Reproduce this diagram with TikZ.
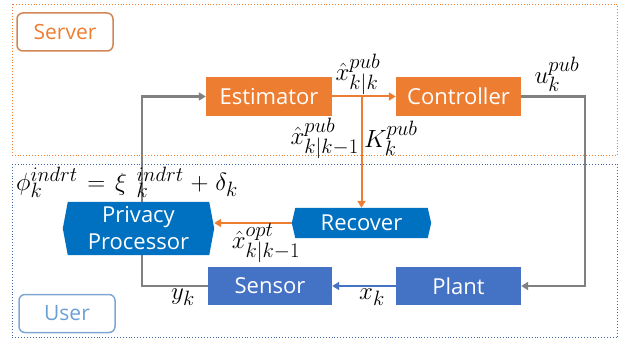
\documentclass[tikz,border=0pt]{standalone}
\usepackage{fontspec}
\setmainfont{Open Sans}
\DeclareMathSizes{25}{25}{20}{15}
\usetikzlibrary{arrows.meta}
\pgfdeclarelayer{wires}
\pgfdeclarelayer{plates}
\pgfsetlayers{wires,plates,main}

\definecolor{srvorange}{HTML}{ED7D31}
\definecolor{srvedge}{HTML}{CF8655}
\definecolor{pblue}{HTML}{0070C0}
\definecolor{bblue}{HTML}{4472C4}
\definecolor{wiregray}{HTML}{808080}
\definecolor{usredge}{HTML}{7FA7D4}
\definecolor{usrtext}{HTML}{6A9FD6}
\definecolor{usrframe}{HTML}{4066A8}

\tikzset{
  bigfont/.style={font=\fontsize{22}{28}\selectfont},
  block/.style={rectangle, inner sep=0pt, minimum width=125pt, minimum height=39pt,
                text=white, bigfont, fill=#1},
  hexbox/.style={rectangle, inner sep=0pt, text=white, bigfont, align=center},
  tag/.style={rectangle, rounded corners=6pt, line width=1.5pt, inner sep=0pt,
              minimum width=96pt, minimum height=38pt, font=\fontsize{21}{26}\selectfont},
  lbl/.style={inner sep=0pt, font=\fontsize{25}{30}\selectfont},
  tip/.style={-{Triangle[length=7pt,width=8pt]}},
  graywire/.style={draw=wiregray, line width=2.2pt, tip},
  orangewire/.style={draw=srvorange, line width=2pt, tip},
  bluewire/.style={draw=bblue, line width=2pt, tip},
}

\begin{document}
\begin{tikzpicture}[x=1pt, y=-1pt]
  \useasboundingbox (0,0) rectangle (624,339);

  % server and user zones
  \draw[srvorange, dotted, line width=0.9pt] (12,4.5) rectangle (617.5,155.5);
  \draw[usrframe, dotted, line width=0.9pt] (12,164) rectangle (617.5,337.5);
  \node[tag, draw=srvedge, text=srvorange] (srv) at (65,32) {Server};
  \node[tag, draw=usredge, text=usrtext] (usr) at (67,313.5) {User};

  % blocks
  \node[block=srvorange, minimum width=126pt] (est) at (269,96.5) {Estimator};
  \node[block=srvorange] (ctl) at (458.5,96.5) {Controller};
  \node[block=bblue, minimum width=124pt, minimum height=38pt] (sen) at (270,286) {Sensor};
  \node[block=bblue, minimum height=38pt] (pla) at (458.5,286) {Plant};
  \node[hexbox, minimum width=139pt, minimum height=30pt] (rec) at (361.5,223) {Recover};
  \node[hexbox, minimum width=151pt, minimum height=53pt] (pp) at (138.5,228.5)
       {Privacy\\[-1pt]Processor};

  % hexagonal plates behind the blue labels
  \begin{pgfonlayer}{plates}
    \fill[pblue] ([xshift=5pt]pp.north west) -- ([xshift=-5pt]pp.north east) -- (pp.east)
      -- ([xshift=-5pt]pp.south east) -- ([xshift=5pt]pp.south west) -- (pp.west) -- cycle;
    \fill[pblue] ([xshift=3.5pt]rec.north west) -- ([xshift=-3.5pt]rec.north east) -- (rec.east)
      -- ([xshift=-3.5pt]rec.south east) -- ([xshift=3.5pt]rec.south west) -- (rec.west) -- cycle;
  \end{pgfonlayer}

  % connectors
  \begin{pgfonlayer}{wires}
    \draw[graywire] (sen.west) -- ++(-65.5,0) |- (est.west);
    \draw[graywire] (ctl.east) -- ++(64,0) |- (pla.east);
  \end{pgfonlayer}
  \draw[orangewire] (est.east) -- (ctl.west);
  \draw[orangewire] (rec.north |- est.east) -- (rec.north);
  \draw[orangewire] (rec.west) -- (pp.east |- rec.west);
  \draw[bluewire] (pla.west) -- (sen.east);

  % signal labels
  \node[lbl] (xkk) at (358,74) {$\hat{x}^{pub}_{k|k}$};
  \node[lbl] (uk) at (557,74) {$u^{pub}_{k}$};
  \node[lbl, anchor=east] (xkk1) at (359,138) {$\hat{x}^{pub}_{k|k-1}$};
  \node[lbl, anchor=west] (kk) at (364,138) {$K^{pub}_{k}$};
  \node[lbl] (xopt) at (266,243) {$\hat{x}^{opt}_{k|k-1}$};
  \node[lbl] (yk) at (183,297) {$y_k$};
  \node[lbl] (xk) at (372,297) {$x_k$};
  \node[lbl, anchor=west] (phi) at (16,182)
       {\thickmuskip=7mu\medmuskip=5mu
        $\phi^{indrt}_{k} = \xi\;{}^{indrt}_{k} + \delta_k$};
\end{tikzpicture}
\end{document}
